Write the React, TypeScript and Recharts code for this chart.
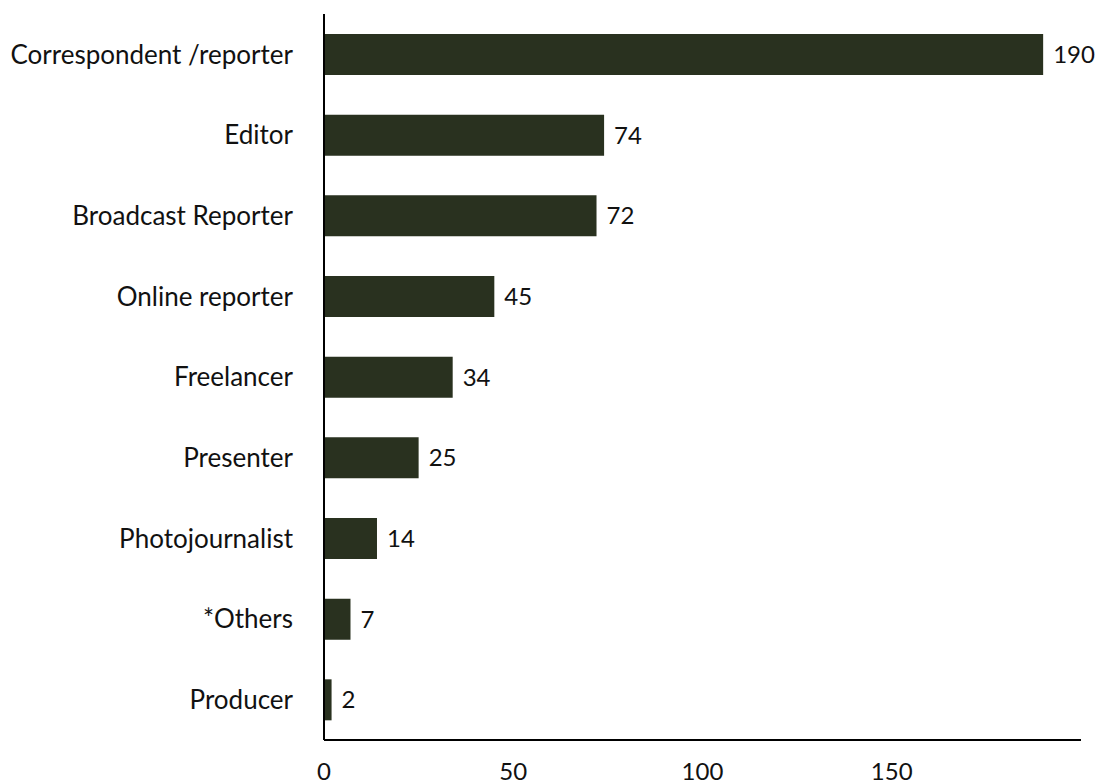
import { BarChart, Bar, XAxis, YAxis, LabelList } from 'recharts';

// roles, top to bottom
const roles = [
    'Correspondent /reporter',
    'Editor',
    'Broadcast Reporter',
    'Online reporter',
    'Freelancer',
    'Presenter',
    'Photojournalist',
    '*Others',
    'Producer',
];
const counts = [190, 74, 72, 45, 34, 25, 14, 7, 2];
const xTicks = [0, 50, 100, 150];

const data = roles.map((role, i) => ({ role, count: counts[i] }));

const FONT = 'Lato, "Noto Sans", sans-serif';
const BAR_COLOR = '#29311f';

const App = () => {
    return (
        <div style={{ position: 'absolute', left: 0, top: 0, background: '#fff' }}>
            <BarChart
                width={1101}
                height={783}
                data={data}
                layout="vertical"
                margin={{ top: 14, right: 20, bottom: 0, left: 0 }}
                barSize={41}
            >
                <XAxis
                    type="number"
                    domain={[0, 200]}
                    ticks={xTicks}
                    height={43}
                    axisLine={{ stroke: '#000', strokeWidth: 2 }}
                    tickLine={false}
                    tickSize={0}
                    tickMargin={23}
                    tick={{ fill: '#111', fontSize: 24, fontFamily: FONT }}
                    interval={0}
                />
                <YAxis
                    type="category"
                    dataKey="role"
                    width={324}
                    axisLine={{ stroke: '#000', strokeWidth: 2 }}
                    tickLine={false}
                    tickSize={0}
                    tickMargin={31}
                    tick={{ fill: '#111', fontSize: 26, fontFamily: FONT }}
                    interval={0}
                />
                <Bar dataKey="count" fill={BAR_COLOR} isAnimationActive={false}>
                    <LabelList
                        dataKey="count"
                        position="right"
                        offset={10}
                        style={{ fill: '#111', fontSize: 24, fontFamily: FONT }}
                    />
                </Bar>
            </BarChart>
        </div>
    );
};

export default App;
